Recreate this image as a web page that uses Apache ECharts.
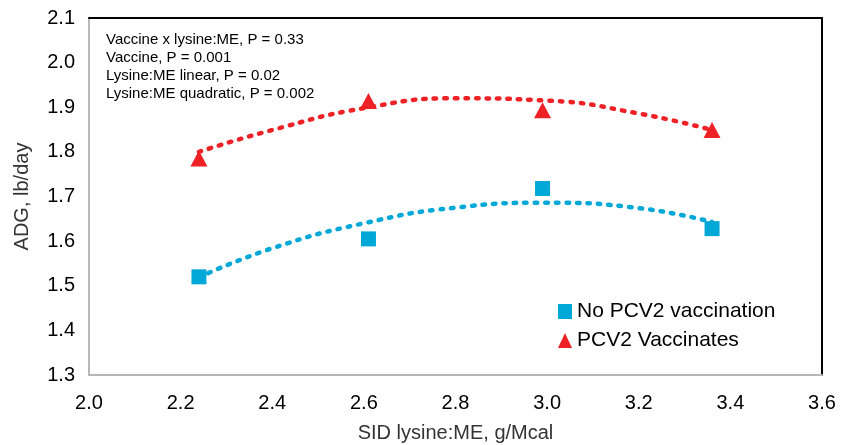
<!DOCTYPE html>
<html>
<head>
<meta charset="utf-8">
<script src="https://cdn.jsdelivr.net/npm/echarts@6/dist/echarts.min.js"></script>
<style>
	html, body { margin: 0; padding: 0; background: #fff; }
	#chart { width: 848px; height: 445px; }
</style>
</head>
<body>
<div id="chart"></div>
<script>
	var xTicks = [2.0, 2.2, 2.4, 2.6, 2.8, 3.0, 3.2, 3.4, 3.6];
	var yTicks = [1.3, 1.4, 1.5, 1.6, 1.7, 1.8, 1.9, 2.0, 2.1];

	// observed means
	var lysineME = [2.24, 2.61, 2.99, 3.36];
	var noVaccine = [1.52, 1.605, 1.718, 1.628];
	var vaccinates = [1.785, 1.914, 1.893, 1.849];

	// dotted trend curves
	var trendX = [2.24, 2.4, 2.6, 2.8, 3.0, 3.2, 3.36];
	var noVaccineTrend = [1.519, 1.584, 1.640, 1.675, 1.686, 1.674, 1.643];
	var vaccinatesTrend = [1.80, 1.849, 1.898, 1.920, 1.915, 1.886, 1.849];

	var notes = [
		'Vaccine x lysine:ME, P = 0.33',
		'Vaccine, P = 0.001',
		'Lysine:ME linear, P = 0.02',
		'Lysine:ME quadratic, P = 0.002'
	];

	var FONT = '"Liberation Sans", Arial, sans-serif';
	var BLUE = '#00a8d8';
	var RED = '#ee2226';

	function pairs(xs, ys) {
		var out = [];
		for (var i = 0; i < xs.length; i++) {
			out.push([xs[i], ys[i]]);
		}
		return out;
	}

	var chart = echarts.init(document.getElementById('chart'));

	var option = {
		animation: false,
		textStyle: { fontFamily: FONT },
		grid: { left: 89, right: 26, top: 18, bottom: 70, outerBoundsMode: 'none' },
		legend: {
			orient: 'vertical',
			left: 553,
			top: 296,
			itemWidth: 14,
			itemHeight: 15,
			itemGap: 8,
			textStyle: { fontSize: 21, color: '#000', fontFamily: FONT },
			data: [
				{ name: 'No PCV2 vaccination', icon: 'rect' },
				{ name: 'PCV2 Vaccinates', icon: 'triangle' }
			]
		},
		graphic: [{
			type: 'text',
			left: 106,
			top: 31,
			style: {
				text: notes.join('\n'),
				font: '15px ' + FONT,
				lineHeight: 18,
				fill: '#000'
			}
		}],
		xAxis: [{
			type: 'value',
			min: xTicks[0],
			max: xTicks[xTicks.length - 1],
			interval: 0.2,
			name: 'SID lysine:ME, g/Mcal',
			nameLocation: 'middle',
			nameGap: 48,
			nameTextStyle: { fontSize: 20, color: '#333', fontFamily: FONT },
			axisLine: { lineStyle: { color: '#b8b8b8', width: 2 } },
			axisTick: { show: false },
			splitLine: { show: false },
			axisLabel: {
				fontSize: 20, color: '#000', margin: 18,
				formatter: function (v) { return v.toFixed(1); }
			}
		}, {
			type: 'value',
			position: 'top',
			min: xTicks[0],
			max: xTicks[xTicks.length - 1],
			axisLine: { onZero: false, lineStyle: { color: '#000', width: 2 } },
			axisTick: { show: false },
			axisLabel: { show: false },
			splitLine: { show: false }
		}],
		yAxis: [{
			type: 'value',
			min: yTicks[0],
			max: yTicks[yTicks.length - 1],
			interval: 0.1,
			name: 'ADG, lb/day',
			nameLocation: 'middle',
			nameGap: 57,
			nameTextStyle: { fontSize: 20, color: '#333', fontFamily: FONT },
			axisLine: { show: true, lineStyle: { color: '#b8b8b8', width: 2 } },
			axisTick: { show: false },
			splitLine: { show: false },
			axisLabel: {
				fontSize: 20, color: '#000', margin: 14,
				formatter: function (v) { return v.toFixed(1); }
			}
		}, {
			type: 'value',
			position: 'right',
			min: yTicks[0],
			max: yTicks[yTicks.length - 1],
			axisLine: { show: true, onZero: false, lineStyle: { color: '#000', width: 2 } },
			axisTick: { show: false },
			axisLabel: { show: false },
			splitLine: { show: false }
		}],
		series: [{
			name: 'noVaccineTrend',
			type: 'line',
			smooth: true,
			symbol: 'none',
			silent: true,
			data: pairs(trendX, noVaccineTrend),
			lineStyle: { color: BLUE, width: 4.5, type: [2.5, 8], cap: 'round' },
			z: 2
		}, {
			name: 'vaccinatesTrend',
			type: 'line',
			smooth: true,
			symbol: 'none',
			silent: true,
			data: pairs(trendX, vaccinatesTrend),
			lineStyle: { color: RED, width: 4.5, type: [2.5, 8], cap: 'round' },
			z: 2
		}, {
			name: 'No PCV2 vaccination',
			type: 'scatter',
			symbol: 'rect',
			symbolSize: 15,
			itemStyle: { color: BLUE, opacity: 1 },
			data: pairs(lysineME, noVaccine),
			z: 3
		}, {
			name: 'PCV2 Vaccinates',
			type: 'scatter',
			symbol: 'triangle',
			symbolSize: [17, 16],
			itemStyle: { color: RED, opacity: 1 },
			data: pairs(lysineME, vaccinates),
			z: 3
		}]
	};

	chart.setOption(option);
</script>
</body>
</html>
